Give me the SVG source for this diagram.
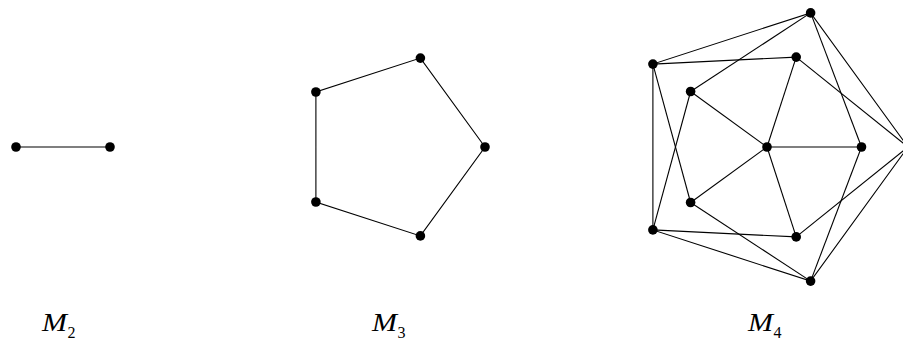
<svg xmlns="http://www.w3.org/2000/svg" width="903" height="341" viewBox="0 0 903 341">
<style>
.e{stroke:#000;stroke-width:1.1;fill:none}
.v{fill:#000}
.lbl{font-family:"Liberation Serif","DejaVu Serif",serif;font-style:italic;font-size:25px;fill:#000}
.sub{font-family:"Liberation Serif","DejaVu Serif",serif;font-size:16px;fill:#000}
</style>
<rect width="903" height="341" fill="#fff"/>
<g id="connectors">
<line class="e" x1="16" y1="147" x2="110" y2="147"/>
<polygon class="e" points="485,147 420.4,58.1 315.9,92 315.9,202 420.4,235.9"/>
<polygon class="e" points="908,147 810.6,12.9 652.9,64.1 652.9,229.9 810.6,281.1"/>
<line class="e" x1="767" y1="147" x2="861.5" y2="147"/>
<line class="e" x1="767" y1="147" x2="796.2" y2="57.1"/>
<line class="e" x1="767" y1="147" x2="690.6" y2="91.5"/>
<line class="e" x1="767" y1="147" x2="690.6" y2="202.5"/>
<line class="e" x1="767" y1="147" x2="796.2" y2="236.9"/>
<line class="e" x1="861.5" y1="147" x2="810.6" y2="12.9"/>
<line class="e" x1="861.5" y1="147" x2="810.6" y2="281.1"/>
<line class="e" x1="796.2" y1="57.1" x2="908" y2="147"/>
<line class="e" x1="796.2" y1="57.1" x2="652.9" y2="64.1"/>
<line class="e" x1="690.6" y1="91.5" x2="810.6" y2="12.9"/>
<line class="e" x1="690.6" y1="91.5" x2="652.9" y2="229.9"/>
<line class="e" x1="690.6" y1="202.5" x2="652.9" y2="64.1"/>
<line class="e" x1="690.6" y1="202.5" x2="810.6" y2="281.1"/>
<line class="e" x1="796.2" y1="236.9" x2="652.9" y2="229.9"/>
<line class="e" x1="796.2" y1="236.9" x2="908" y2="147"/>
</g>
<g id="m2-a"><circle class="v" cx="16" cy="147" r="4.8"/></g>
<g id="m2-b"><circle class="v" cx="110" cy="147" r="4.8"/></g>
<g id="m3-0"><circle class="v" cx="485" cy="147" r="4.8"/></g>
<g id="m3-1"><circle class="v" cx="420.4" cy="58.1" r="4.8"/></g>
<g id="m3-2"><circle class="v" cx="315.9" cy="92" r="4.8"/></g>
<g id="m3-3"><circle class="v" cx="315.9" cy="202" r="4.8"/></g>
<g id="m3-4"><circle class="v" cx="420.4" cy="235.9" r="4.8"/></g>
<g id="m4-c"><circle class="v" cx="767" cy="147" r="4.8"/></g>
<g id="m4-i0"><circle class="v" cx="861.5" cy="147" r="4.8"/></g>
<g id="m4-i1"><circle class="v" cx="796.2" cy="57.1" r="4.8"/></g>
<g id="m4-i2"><circle class="v" cx="690.6" cy="91.5" r="4.8"/></g>
<g id="m4-i3"><circle class="v" cx="690.6" cy="202.5" r="4.8"/></g>
<g id="m4-i4"><circle class="v" cx="796.2" cy="236.9" r="4.8"/></g>
<g id="m4-o0"><circle class="v" cx="908" cy="147" r="4.8"/></g>
<g id="m4-o1"><circle class="v" cx="810.6" cy="12.9" r="4.8"/></g>
<g id="m4-o2"><circle class="v" cx="652.9" cy="64.1" r="4.8"/></g>
<g id="m4-o3"><circle class="v" cx="652.9" cy="229.9" r="4.8"/></g>
<g id="m4-o4"><circle class="v" cx="810.6" cy="281.1" r="4.8"/></g>
<g id="label-m2"><text class="lbl" x="42" y="331" textLength="25" lengthAdjust="spacingAndGlyphs">M</text><text class="sub" x="67.5" y="337.5">2</text></g>
<g id="label-m3"><text class="lbl" x="372" y="331" textLength="25" lengthAdjust="spacingAndGlyphs">M</text><text class="sub" x="397.5" y="337.5">3</text></g>
<g id="label-m4"><text class="lbl" x="748" y="331" textLength="25" lengthAdjust="spacingAndGlyphs">M</text><text class="sub" x="773.5" y="337.5">4</text></g>
</svg>
